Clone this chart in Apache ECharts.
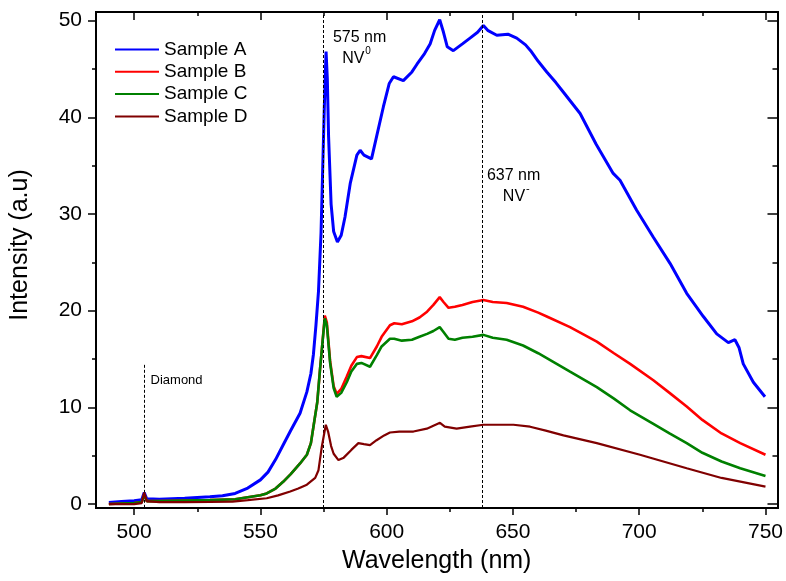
<!DOCTYPE html>
<html>
<head>
<meta charset="utf-8">
<script src="https://cdn.jsdelivr.net/npm/echarts@6/dist/echarts.min.js"></script>
<style>
html,body{margin:0;padding:0;background:#fff;}
#chart{width:786px;height:581px;}
</style>
</head>
<body>
<div id="chart"></div>
<script>
// ---- data ----
const seriesNames = ['Sample A', 'Sample B', 'Sample C', 'Sample D'];
const seriesColors = ['#0000ff', '#ff0000', '#008000', '#800000'];

const wlA = [490,495,500,503,504,505,510,520,530,535,540,545,550,553,556,559,562,565.7,568.4,570,571,572,573,574,574.6,575.3,576,576.5,577,578,579,580.5,582,583.5,585.6,588.2,589.5,591,594,596,598.7,601,602.7,606.6,610,612,615,617.2,619,621,622.5,624,626.4,630,633,636,638.3,640,643.6,648,651.5,655,657,660,663.4,667,670,676.6,683,689.7,692.4,699,705.6,712.2,718.8,725.4,730.7,735.3,737.9,739.5,741.2,745.2,749.8];
const sampleA = [0.15,0.25,0.35,0.45,1.2,0.55,0.5,0.6,0.75,0.85,1.1,1.65,2.5,3.3,4.6,6.1,7.6,9.4,11.6,13.5,15.5,18.5,22,28,34,41,46.8,44,38,31,28.2,27.1,27.8,29.7,33.2,36.1,36.6,36.1,35.7,38,41.1,43.5,44.2,43.8,44.7,45.5,46.6,47.6,49,50.1,48.8,47.3,46.9,47.6,48.2,48.8,49.5,49,48.5,48.6,48.2,47.5,46.9,45.8,44.7,43.6,42.6,40.4,37.2,34.2,33.5,30.4,27.6,24.9,21.8,19.4,17.6,16.7,17.0,16.2,14.5,12.6,11.1];

const wlB = [490,495,500,503,504,505,510,520,530,540,545,550,552.5,556,559,562,565.7,568.4,570,571,572.5,573.6,574.5,575.5,576.3,577.6,579,580.2,582,584.2,586,588.2,590,593.4,596.1,598,601.3,603,606,610,613,616,618.5,621,622.5,624.5,627,630,634,638.3,642,647.5,654,660,663.4,672.6,683.2,690,696.4,705.6,712,718.8,725,732.6,740,750];
const sampleB = [0.0,0.05,0.1,0.2,1.0,0.3,0.3,0.35,0.4,0.5,0.7,0.9,1.1,1.6,2.3,3.1,4.2,5.1,6.3,8.0,10.5,13.9,16.5,19.5,18.8,14.8,12.2,11.4,11.9,13.2,14.3,15.2,15.3,15.1,16.3,17.3,18.5,18.7,18.6,18.9,19.3,19.9,20.6,21.4,20.9,20.3,20.4,20.6,20.9,21.1,20.9,20.8,20.4,19.8,19.4,18.3,16.8,15.6,14.5,12.8,11.5,10.1,8.7,7.3,6.3,5.1];

const wlC = [490,495,500,503,504,505,510,520,530,540,545,550,552.5,556,559,562,565.7,568.4,570,571,572.5,573.6,574.5,575.5,576.3,577.6,579,580.2,582,584.2,586,588.2,590,593.4,596.1,598,601.3,603,606,610,613,616,618.5,621,622.5,624.5,627,630,634,638.3,642,647.5,654,660,663.4,672.6,683.2,690,696.4,705.6,712,718.8,725,732.6,740,750];
const sampleC = [0.0,0.05,0.1,0.2,0.95,0.3,0.3,0.35,0.4,0.5,0.7,0.9,1.1,1.6,2.3,3.1,4.2,5.1,6.3,8.0,10.5,13.9,16.5,19.2,18.5,14.6,12.0,11.1,11.5,12.6,13.7,14.5,14.6,14.2,15.4,16.3,17.1,17.1,16.9,17.0,17.3,17.6,17.9,18.3,17.8,17.1,17.0,17.2,17.3,17.5,17.2,17.0,16.4,15.6,15.1,13.7,12.1,10.9,9.7,8.3,7.3,6.3,5.3,4.4,3.7,2.9];

const wlD = [490,500,503,504,505,510,520,530,539,545,552.5,557,561.8,565,568.4,571.7,573,574.3,575.9,576.8,578,579,580.9,583,586,588.8,591,593.4,596,599,601.3,605,610.6,615.9,621.1,623,627.7,633,638.3,645,650.2,656.8,663,670,683.2,700.3,718.8,732.6,750];
const sampleD = [0.0,0.0,0.1,1.2,0.3,0.2,0.2,0.22,0.25,0.4,0.6,0.9,1.3,1.6,2.0,2.7,3.5,5.9,8.2,7.5,6.0,5.2,4.55,4.8,5.6,6.3,6.2,6.1,6.6,7.1,7.4,7.5,7.5,7.8,8.4,8.0,7.8,8.0,8.2,8.2,8.2,8.0,7.6,7.1,6.3,5.1,3.7,2.7,1.8];

const xMajorTicks = [500, 550, 600, 650, 700, 750];
const xMinorTicks = [525, 575, 625, 675, 725];
const yMajorTicks = [0, 10, 20, 30, 40, 50];
const yMinorTicks = [5, 15, 25, 35, 45];

const peakLines = [575, 638];          // full-height dashed markers
const diamondLine = [504, 14.4];       // wavelength, top intensity of short marker

// ---- chart ----
const XMIN = 484.9, XMAX = 754.75, YMIN = -0.41, YMAX = 50.9;
const FONT = 'Liberation Sans, Arial, sans-serif';
const zip = (xs, ys) => xs.map((x, i) => [x, ys[i]]);
const wls = [wlA, wlB, wlC, wlD];
const vals = [sampleA, sampleB, sampleC, sampleD];
const widths = [3, 2.6, 2.6, 2.2];

const chart = echarts.init(document.getElementById('chart'), null, {renderer: 'canvas'});

function xAx(pos, ticks, len, inside, labels, extra) {
  return Object.assign({
    type: 'value', position: pos, min: XMIN, max: XMAX, gridIndex: 0,
    axisLine: {show: true, onZero: false, lineStyle: {color: '#000', width: 2}},
    axisTick: {show: true, inside: inside, length: len, customValues: ticks, lineStyle: {color: '#000', width: 1.5}},
    axisLabel: labels ? {show: true, customValues: ticks, fontSize: 21, fontFamily: FONT, color: '#000', margin: 14} : {show: false},
    splitLine: {show: false}
  }, extra || {});
}
function yAx(pos, ticks, len, inside, labels, extra) {
  return Object.assign({
    type: 'value', position: pos, min: YMIN, max: YMAX, gridIndex: 0,
    axisLine: {show: true, onZero: false, lineStyle: {color: '#000', width: 2}},
    axisTick: {show: true, inside: inside, length: len, customValues: ticks, lineStyle: {color: '#000', width: 1.5}},
    axisLabel: labels ? {show: true, customValues: ticks, fontSize: 21, fontFamily: FONT, color: '#000', margin: 14} : {show: false},
    splitLine: {show: false}
  }, extra || {});
}

const series = seriesNames.map((n, k) => ({
  name: n, type: 'line', xAxisIndex: 0, yAxisIndex: 0,
  data: zip(wls[k], vals[k]), symbol: 'none', showSymbol: false, smooth: false,
  lineStyle: {color: seriesColors[k], width: widths[k]},
  itemStyle: {color: seriesColors[k]},
  z: 3 + k
}));

series[0].markLine = {
  silent: true, symbol: ['none', 'none'], animation: false,
  label: {show: false},
  lineStyle: {color: '#000', width: 1, type: [3, 2]},
  data: peakLines.map(v => ({xAxis: v})).concat([[{coord: [diamondLine[0], diamondLine[1]]}, {coord: [diamondLine[0], YMIN]}]])
};

chart.setOption({
  animation: false,
  backgroundColor: '#fff',
  grid: {left: 96, top: 12, right: 8, bottom: 73, containLabel: false},
  xAxis: [
    xAx('bottom', xMajorTicks, 7, false, true, {
      name: 'Wavelength (nm)', nameLocation: 'middle', nameGap: 41,
      nameTextStyle: {fontSize: 25, fontFamily: FONT, color: '#000'}
    }),
    xAx('bottom', xMinorTicks, 4, false, false),
    xAx('top', xMajorTicks, 8, true, false),
    xAx('top', xMinorTicks, 4, true, false)
  ],
  yAxis: [
    yAx('left', yMajorTicks, 8, false, true, {
      name: 'Intensity (a.u)', nameLocation: 'middle', nameGap: 63,
      nameTextStyle: {fontSize: 25, fontFamily: FONT, color: '#000', padding: [0, 0, 0, 30]}
    }),
    yAx('left', yMinorTicks, 4, false, false),
    yAx('right', yMajorTicks, 10, true, false),
    yAx('right', yMinorTicks, 5, true, false)
  ],
  legend: {
    data: seriesNames.map((n, k) => ({name: n, icon: 'rect', itemStyle: {color: seriesColors[k]}})),
    orient: 'vertical', left: 115, top: 40, padding: 0,
    itemWidth: 44, itemHeight: 2, itemGap: 3.3,
    textStyle: {fontSize: 19, fontFamily: FONT, color: '#000'}
  },
  series: series
});

// annotation texts anchored in data coordinates
const annotations = [
  {text: '575 nm', at: [578.7, 48.26], size: 16},
  {text: 'NV', at: [582.4, 46.1], size: 16},
  {text: '0', at: [591.5, 46.8], size: 10},
  {text: '637 nm', at: [639.7, 34.0], size: 16},
  {text: 'NV', at: [646.0, 31.8], size: 16},
  {text: '-', at: [655.2, 32.6], size: 11},
  {text: 'Diamond', at: [506.5, 12.8], size: 13}
];
chart.setOption({
  graphic: annotations.map(a => {
    const p = chart.convertToPixel({xAxisIndex: 0, yAxisIndex: 0}, a.at);
    return {type: 'text', x: p[0], y: p[1], silent: true, z: 20,
      style: {text: a.text, fontSize: a.size, fontFamily: FONT, fill: '#000', align: 'left', verticalAlign: 'middle'}};
  })
});
</script>
</body>
</html>
